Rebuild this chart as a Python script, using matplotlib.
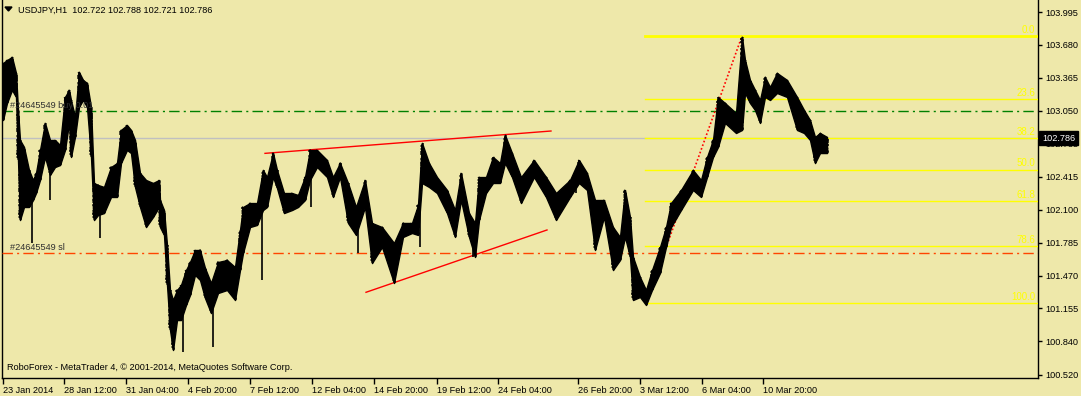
import numpy as np
import matplotlib.pyplot as plt
from matplotlib.patches import Polygon

plt.rcParams['font.family'] = ['Liberation Sans', 'DejaVu Sans']
plt.rcParams['lines.scale_dashes'] = False

# H1 bars: position along the chart, high and low
bar_pos = [3, 7, 12, 16, 18, 20, 24, 29, 33, 36, 40, 45, 50, 55, 60, 65, 69, 71, 75, 79,
           83, 87, 91, 94, 98, 104, 111, 117, 121, 127, 131, 135, 140, 146, 153, 159, 160, 164,
           167, 170, 173, 177, 181, 186, 190, 195, 200, 205, 211, 218, 227, 235, 240, 243, 250,
           257, 263, 267, 273, 277, 284, 292, 298, 305, 310, 317, 327, 333, 340, 348, 356, 365,
           372, 382, 394, 403, 412, 418, 422, 429, 437, 447, 455, 461, 469, 475, 479, 486, 493,
           500, 505, 512, 521, 534, 546, 556, 570, 579, 587, 595, 604, 613, 620, 625, 630, 633,
           640, 646, 652, 660, 666, 671, 681, 693, 701, 707, 713, 718, 725, 736, 742, 745, 750,
           755, 760, 765, 770, 777, 787, 797, 804, 810, 815, 820, 827]
bar_high = [103.506, 103.535, 103.564, 103.411, 103.056, 102.769, 102.702, 102.481, 102.386,
            102.453, 102.673, 102.932, 102.769, 102.769, 102.721, 103.181, 103.248, 103.152,
            102.989, 103.420, 103.344, 103.315, 103.085, 102.357, 102.338, 102.319, 102.510,
            102.548, 102.865, 102.912, 102.865, 102.769, 102.453, 102.386, 102.357, 102.386,
            102.194, 102.098, 101.763, 101.332, 101.236, 101.332, 101.380, 101.523, 101.600,
            101.715, 101.715, 101.543, 101.399, 101.600, 101.619, 101.552, 101.907, 102.127,
            102.165, 102.165, 102.481, 102.414, 102.644, 102.481, 102.261, 102.261, 102.242,
            102.414, 102.673, 102.673, 102.577, 102.414, 102.548, 102.357, 102.127, 102.386,
            101.974, 101.935, 101.782, 101.974, 101.974, 102.146, 102.740, 102.548, 102.414,
            102.290, 102.098, 102.453, 102.069, 101.974, 102.414, 102.414, 102.606, 102.548,
            102.817, 102.644, 102.414, 102.577, 102.414, 102.261, 102.386, 102.577, 102.453,
            102.194, 102.194, 101.935, 101.840, 102.290, 102.031, 101.648, 101.456, 101.332,
            101.523, 101.744, 101.935, 102.165, 102.290, 102.481, 102.386, 102.606, 102.769,
            103.181, 103.123, 103.027, 103.756, 103.535, 103.344, 103.248, 103.152, 103.372,
            103.277, 103.411, 103.344, 103.181, 103.056, 102.960, 102.798, 102.836, 102.798]
bar_low = [102.960, 103.123, 103.248, 103.181, 102.577, 102.002, 102.127, 102.127, 102.194,
           102.261, 102.386, 102.606, 102.434, 102.510, 102.529, 102.673, 102.932, 102.606,
           102.798, 103.085, 103.152, 103.085, 102.606, 102.002, 102.050, 102.069, 102.223,
           102.223, 102.548, 102.673, 102.644, 102.319, 102.127, 101.935, 102.031, 102.127,
           101.935, 101.859, 101.380, 100.949, 100.757, 101.044, 101.044, 101.188, 101.284,
           101.476, 101.428, 101.255, 101.111, 101.303, 101.332, 101.236, 101.523, 101.686,
           101.935, 101.955, 102.098, 102.127, 102.414, 102.309, 102.069, 102.098, 102.127,
           102.194, 102.386, 102.510, 102.414, 102.223, 102.414, 101.974, 101.859, 102.127,
           101.590, 101.744, 101.399, 101.840, 101.878, 101.859, 102.357, 102.319, 102.261,
           102.069, 101.840, 102.194, 101.840, 101.648, 102.002, 102.261, 102.357, 102.357,
           102.548, 102.414, 102.165, 102.414, 102.223, 102.002, 102.223, 102.357, 102.290,
           101.715, 102.031, 101.523, 101.619, 101.840, 101.648, 101.236, 101.265, 101.188,
           101.332, 101.495, 101.744, 101.935, 102.098, 102.290, 102.223, 102.414, 102.606,
           102.702, 102.932, 102.836, 102.865, 103.219, 103.123, 103.056, 102.932, 103.181,
           103.152, 103.219, 103.181, 102.865, 102.836, 102.769, 102.548, 102.644, 102.644]

# long single-bar wicks
wick_pos = [32, 50, 100, 183, 213, 262, 311, 358, 420, 473, 576]
wick_price = [101.782, 102.194, 101.830, 100.738, 100.786, 101.428, 102.127, 101.686,
              101.744, 101.648, 102.261]

# axis labels
price_ticks = [103.995, 103.680, 103.365, 103.050, 102.735, 102.415, 102.100, 101.785,
               101.470, 101.155, 100.840, 100.520]
time_tick_pos = [3, 64, 126, 188, 250, 312, 374, 437, 498, 578, 640, 702, 763]
time_tick_labels = ['23 Jan 2014', '28 Jan 12:00', '31 Jan 04:00', '4 Feb 20:00', '7 Feb 12:00',
                    '12 Feb 04:00', '14 Feb 20:00', '19 Feb 12:00', '24 Feb 04:00',
                    '26 Feb 20:00', '3 Mar 12:00', '6 Mar 04:00', '10 Mar 20:00']

# objects on chart
bid = 102.786
order_open = 103.047
order_sl = 101.686
fib_high, fib_low = 103.765, 101.204
fib_start, fib_end = 646, 742
fib_ratios = [0.0, 23.6, 38.2, 50.0, 61.8, 78.6, 100.0]
upper_trend_x = [265, 551]
upper_trend_y = [102.641, 102.855]
lower_trend_x = [366, 547]
lower_trend_y = [101.310, 101.907]

bg = '#EEE8AA'
W, H = 1081, 396
fig = plt.figure(figsize=(W / 100, H / 100), dpi=100, facecolor=bg)
ax = fig.add_axes([2 / W, 18 / H, 1036 / W, 378 / H], facecolor=bg)
ax.set_xlim(2, 1038)
ax.set_ylim(100.489, 104.110)

# price bars (sketch gives the ragged bar-by-bar edge)
xs = np.array(bar_pos)
hi = np.array(bar_high)
lo = np.array(bar_low)
band = ax.fill_between(xs, lo, hi, color='black', lw=1.0, zorder=5)
band.set_sketch_params(1.6, 2.5, 3.0)
bars = ax.vlines(xs, lo, hi, color='black', lw=1.5, zorder=5)
bars.set_sketch_params(1.0, 3.0, 2.0)
mid = (hi + lo) / 2
ax.vlines(wick_pos, np.interp(wick_pos, xs, mid), wick_price, color='black', lw=1.2, zorder=5)

# bid line, orders
ax.axhline(bid, color='#C0C0C0', lw=1, zorder=2)
ax.axhline(order_open, color='#008000', lw=1, ls=(0, (7.5, 3, 1.5, 3)), zorder=3)
ax.axhline(order_sl, color='#FF4500', lw=1, ls=(0, (7.5, 3, 1.5, 3)), zorder=3)
ax.text(10, order_open + 0.01, '#24645549 buy 0.01', fontsize=6.6, color='#303030',
        va='bottom', ha='left', zorder=6)
ax.text(10, order_sl + 0.01, '#24645549 sl', fontsize=6.6, color='#303030',
        va='bottom', ha='left', zorder=6)

# fibonacci
for r in fib_ratios:
    lvl = fib_high - r / 100 * (fib_high - fib_low)
    ax.plot([fib_start - 1, 1038], [lvl, lvl], color='#FFFF00', lw=2 if r == 0 else 1, zorder=3)
    ax.text(1035, lvl + 0.012, f'{r:.1f}', color='#FFFF00', fontsize=7,
            ha='right', va='bottom', zorder=6)
ax.plot([fib_start, fib_end], [fib_low, fib_high], color='red', lw=1.2,
        ls=(0, (1.2, 1.6)), zorder=4)

# trend lines
ax.plot(upper_trend_x, upper_trend_y, color='red', lw=1, zorder=4)
ax.plot(lower_trend_x, lower_trend_y, color='red', lw=1, zorder=4)

# axes styling
for s in ['left', 'right', 'bottom']:
    ax.spines[s].set_color('black')
    ax.spines[s].set_linewidth(1)
ax.spines['top'].set_visible(False)
ax.yaxis.tick_right()
ax.set_yticks(price_ticks)
ax.set_yticklabels([f'{p:.3f}' for p in price_ticks])
ax.tick_params(axis='y', direction='out', length=3, width=1, pad=2, labelsize=6.6,
               colors='black')
ax.set_xticks(time_tick_pos)
ax.set_xticklabels(time_tick_labels, ha='left')
ax.tick_params(axis='x', direction='out', length=4, width=1, pad=2, labelsize=6.6,
               colors='black')

# current price box
ax.annotate(f'{bid:.3f}', xy=(1, bid), xycoords=('axes fraction', 'data'),
            xytext=(4, 0), textcoords='offset pixels', fontsize=6.6, color='white',
            va='center', ha='left', annotation_clip=False, zorder=10,
            bbox=dict(boxstyle='square,pad=0.3', fc='black', ec='black'))

# header and footer text
fig.patches.append(Polygon([[5 / W, 1 - 7 / H], [12 / W, 1 - 7 / H], [8.5 / W, 1 - 11 / H]],
                           closed=True, transform=fig.transFigure, color='black'))
fig.text(18 / W, 1 - 10 / H, 'USDJPY,H1  102.722 102.788 102.721 102.786', fontsize=6.6,
         va='center', ha='left', color='black')
fig.text(7 / W, 1 - 368 / H, 'RoboForex - MetaTrader 4, \u00a9 2001-2014, MetaQuotes Software Corp.',
         fontsize=6.6, va='center', ha='left', color='black')

fig.savefig('out.png', dpi=100, facecolor=bg)
